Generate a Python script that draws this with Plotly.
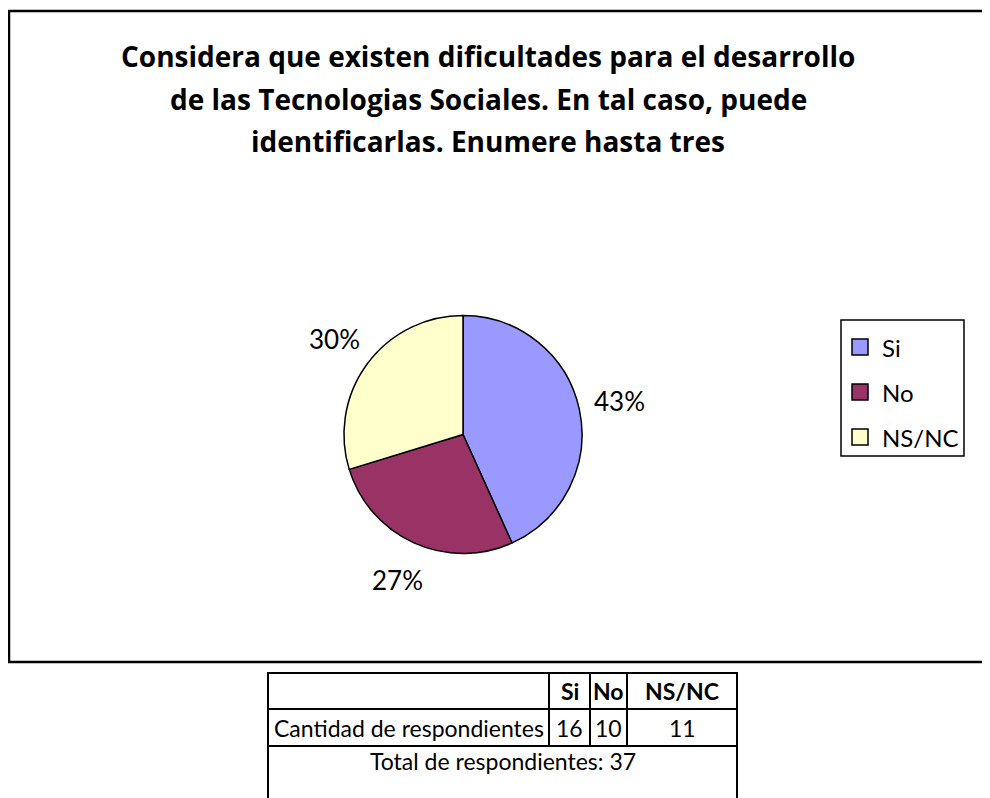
import math
import plotly.graph_objects as go

# ── Data ──
categories = ["Si", "No", "NS/NC"]
counts = [16, 10, 11]
colors = ["#9999FF", "#993366", "#FFFFCC"]
title_lines = [
    "Considera que existen dificultades para el desarrollo",
    "de las Tecnologias Sociales. En tal caso, puede",
    "identificarlas. Enumere hasta tres",
]
row_label = "Cantidad de respondientes"
total_label = "Total de respondientes"

W, H = 990, 798
OFF = 8  # the page body adds an 8px margin around the figure
FONT = "Lato"
TITLE_FONT = "Open Sans"


def px(x):
    return (x - OFF) / W


def py(y):
    return 1 - (y - OFF) / H


def text(x, y, s, size, family=FONT, xanchor="center"):
    return dict(x=px(x), y=py(y), xref="paper", yref="paper", text=s,
                showarrow=False, xanchor=xanchor, yanchor="middle",
                font=dict(family=family, size=size, color="black"))


# pie geometry (page pixels)
cx, cy, rad = 463, 434.5, 119

fig = go.Figure()

fig.add_trace(go.Pie(
    labels=categories,
    values=counts,
    marker=dict(colors=colors, line=dict(color="black", width=1.5)),
    sort=False,
    direction="clockwise",
    rotation=0,
    textinfo="none",
    hoverinfo="label+value+percent",
    showlegend=False,
    domain=dict(x=[px(cx - rad), px(cx + rad)], y=[py(cy + rad), py(cy - rad)]),
))

annotations = []
shapes = []

# percentage labels along each slice's mid angle
total = sum(counts)
acc = 0
for c in counts:
    mid = (acc + c / 2) / total * 2 * math.pi
    acc += c
    lx = cx + 160 * math.sin(mid)
    ly = cy - 160 * math.cos(mid)
    annotations.append(text(lx, ly, f"{round(c / total * 100)}%", 26))

# title, one annotation per line
for i, line in enumerate(title_lines):
    annotations.append(text(488, 56 + i * 42.5, f"<b>{line}</b>", 28, TITLE_FONT))

# ── Legend box ──
shapes.append(dict(type="rect", xref="paper", yref="paper",
                   x0=px(841), x1=px(964), y0=py(456), y1=py(320),
                   line=dict(color="black", width=1.5), fillcolor="white"))
for i, (cat, col) in enumerate(zip(categories, colors)):
    yc = 347 + i * 45
    shapes.append(dict(type="rect", xref="paper", yref="paper",
                       x0=px(852), x1=px(868), y0=py(yc + 8), y1=py(yc - 8),
                       line=dict(color="black", width=1.5), fillcolor=col))
    annotations.append(text(880, yc, cat, 24, xanchor="left"))

# chart frame
shapes.append(dict(type="rect", xref="paper", yref="paper",
                   x0=px(9), x1=px(1010), y0=py(662), y1=py(11),
                   line=dict(color="black", width=2.5), layer="below"))

# ── Table under the chart ──
tx0, tx1 = 268, 737
cols = [268, 549, 590, 627, 737]
rows = [673, 709, 746, 840]
line = dict(color="black", width=2)
shapes.append(dict(type="rect", xref="paper", yref="paper",
                   x0=px(tx0), x1=px(tx1), y0=py(rows[3]), y1=py(rows[0]), line=line))
for y in rows[1:3]:
    shapes.append(dict(type="line", xref="paper", yref="paper",
                       x0=px(tx0), x1=px(tx1), y0=py(y), y1=py(y), line=line))
for x in cols[1:4]:
    shapes.append(dict(type="line", xref="paper", yref="paper",
                       x0=px(x), x1=px(x), y0=py(rows[0]), y1=py(rows[2]), line=line))

for i, cat in enumerate(categories):
    xc = (cols[i + 1] + cols[i + 2]) / 2
    annotations.append(text(xc, 691, f"<b>{cat}</b>", 23))
    annotations.append(text(xc, 728, str(counts[i]), 23))
annotations.append(text((cols[0] + cols[1]) / 2, 728, row_label, 23))
annotations.append(text((tx0 + tx1) / 2, 761, f"{total_label}: {total}", 23))

fig.update_layout(
    width=W, height=H,
    paper_bgcolor="white",
    plot_bgcolor="white",
    margin=dict(l=0, r=0, t=0, b=0),
    showlegend=False,
    annotations=annotations,
    shapes=shapes,
)

fig.write_html("out.html")
